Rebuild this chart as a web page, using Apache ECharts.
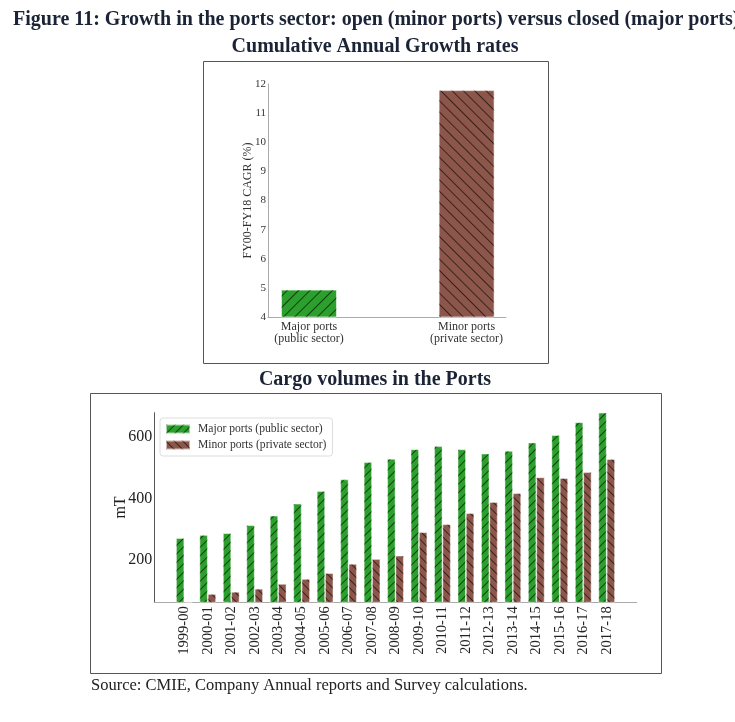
<!DOCTYPE html>
<html>
<head>
<meta charset="utf-8">
<script src="https://cdn.jsdelivr.net/npm/echarts@6/dist/echarts.min.js"></script>
<style>
html,body{margin:0;padding:0;background:#fff;}
#c{width:735px;height:722px;}
</style>
</head>
<body>
<div id="c"></div>
<script>
// ---- data ----
var cagrCategories = ['Major ports\n(public sector)', 'Minor ports\n(private sector)'];
var cagrValues = [4.94, 11.79];

var years = ['1999-00','2000-01','2001-02','2002-03','2003-04','2004-05','2005-06','2006-07','2007-08','2008-09',
             '2009-10','2010-11','2011-12','2012-13','2013-14','2014-15','2015-16','2016-17','2017-18'];
var majorPorts = [271, 281, 287, 313, 344, 383, 424, 462, 518, 529, 560, 570, 560, 546, 555, 582, 606, 648, 679];
var minorPorts = [64, 89, 96, 106, 122, 138, 157, 187, 203, 214, 290, 316, 352, 388, 417, 469, 466, 486, 528];
var cargoTicks = [200, 400, 600];
var seriesNames = ['Major ports (public sector)', 'Minor ports (private sector)'];

// ---- styles ----
var GREEN = '#2ca02c', BROWN = '#8c564b';
var SERIF = '"Liberation Serif", "DejaVu Serif", serif';
function hatch(dir, gap) {
  return {symbol:'rect', symbolSize:1, dashArrayX:[1,0], dashArrayY:[1,gap],
          rotation: dir * Math.PI/4, color:'rgba(0,0,0,0.6)'};
}

var chart = echarts.init(document.getElementById('c'), null, {renderer:'canvas'});

var cagrData = cagrValues.map(function(v, i){
  return {value:[i, v], itemStyle:{color: i===0?GREEN:BROWN, decal: hatch(i===0?-1:1, 7),
          borderColor:'rgba(255,255,255,0.35)', borderWidth:1}};
});

var option = {
  animation:false,
  backgroundColor:'#fff',
  textStyle:{fontFamily:SERIF},
  aria:{enabled:false},
  graphic:[
    {type:'rect', shape:{x:203.5, y:61.5, width:345, height:302}, style:{fill:'none', stroke:'#555', lineWidth:1}, silent:true},
    {type:'rect', shape:{x:90.5, y:393.5, width:571, height:280}, style:{fill:'none', stroke:'#555', lineWidth:1}, silent:true},
    {type:'text', left:13, top:10, style:{text:'Figure 11: Growth in the ports sector: open (minor ports) versus closed (major ports)',
      font:'bold 20px '+SERIF, fill:'#1b2336'}},
    {type:'text', x:375, y:37, style:{text:'Cumulative Annual Growth rates', font:'bold 20px '+SERIF, fill:'#1b2336', align:'center'}},
    {type:'text', x:375, y:370, style:{text:'Cargo volumes in the Ports', font:'bold 20px '+SERIF, fill:'#1b2336', align:'center'}},
    {type:'text', left:91, top:677, style:{text:'Source: CMIE, Company Annual reports and Survey calculations.', font:'16.5px '+SERIF, fill:'#222'}}
  ],
  legend:{
    data:seriesNames,
    left:160, top:418, orient:'vertical',
    itemWidth:24, itemHeight:9, itemGap:4,
    padding:[5,6,5,5],
    borderColor:'#ddd', borderWidth:1, borderRadius:3, backgroundColor:'#fff',
    icon:'rect',
    textStyle:{fontFamily:SERIF, fontSize:11.6, color:'#333', padding:[0,0,0,3]}
  },
  grid:[
    {left:268, right:229, top:84, bottom:405, containLabel:false},
    {left:154.3, right:98.3, top:412.7, bottom:119.7, containLabel:false}
  ],
  xAxis:[
    {type:'value', gridIndex:0, min:-0.26, max:1.25, splitLine:{show:false},
     axisLine:{show:true, onZero:false, lineStyle:{color:'#aaa'}},
     axisTick:{show:false},
     axisLabel:{customValues:[0,1], formatter:function(v){return cagrCategories[Math.round(v)];},
       fontFamily:SERIF, fontSize:12, color:'#333', lineHeight:12, margin:4}},
    {type:'value', gridIndex:1, min:-1.278, max:19.278, splitLine:{show:false},
     axisLine:{show:true, onZero:false, lineStyle:{color:'#aaa'}},
     axisTick:{show:false},
     axisLabel:{customValues:years.map(function(_,i){return i;}), formatter:function(v){return years[Math.round(v)];},
       rotate:90, fontFamily:SERIF, fontSize:14.5, color:'#222', margin:4}}
  ],
  yAxis:[
    {type:'value', gridIndex:0, min:4, max:12, interval:1, splitLine:{show:false},
     name:'FY00-FY18 CAGR (%)', nameLocation:'middle', nameGap:14, nameRotate:90, nameMoveOverlap:false,
     nameTextStyle:{fontFamily:SERIF, fontSize:12, color:'#333'},
     axisLine:{show:true, onZero:false, lineStyle:{color:'#aaa'}}, axisTick:{show:false},
     axisLabel:{fontFamily:SERIF, fontSize:11, color:'#333', margin:2}},
    {type:'value', gridIndex:1, min:62, max:679, splitLine:{show:false},
     name:'mT', nameLocation:'middle', nameGap:26, nameRotate:90, nameMoveOverlap:false,
     nameTextStyle:{fontFamily:SERIF, fontSize:16, color:'#222'},
     axisLine:{show:true, onZero:false, lineStyle:{color:'#555'}}, axisTick:{show:false},
     axisLabel:{customValues:cargoTicks, fontFamily:SERIF, fontSize:16, color:'#222', margin:2}}
  ],
  series:[
    {type:'bar', xAxisIndex:0, yAxisIndex:0, data:cagrData, barWidth:56},
    {type:'bar', name:seriesNames[0], xAxisIndex:1, yAxisIndex:1, barWidth:8.3, barGap:'0%',
     data:majorPorts.map(function(v,i){return [i,v];}),
     itemStyle:{color:GREEN, decal:hatch(-1,5), borderColor:'rgba(255,255,255,0.35)', borderWidth:0.8}},
    {type:'bar', name:seriesNames[1], xAxisIndex:1, yAxisIndex:1, barWidth:8.3, barGap:'0%',
     data:minorPorts.map(function(v,i){return [i,v];}),
     itemStyle:{color:BROWN, decal:hatch(1,5), borderColor:'rgba(255,255,255,0.35)', borderWidth:0.8}}
  ]
};
chart.setOption(option);
</script>
</body>
</html>
